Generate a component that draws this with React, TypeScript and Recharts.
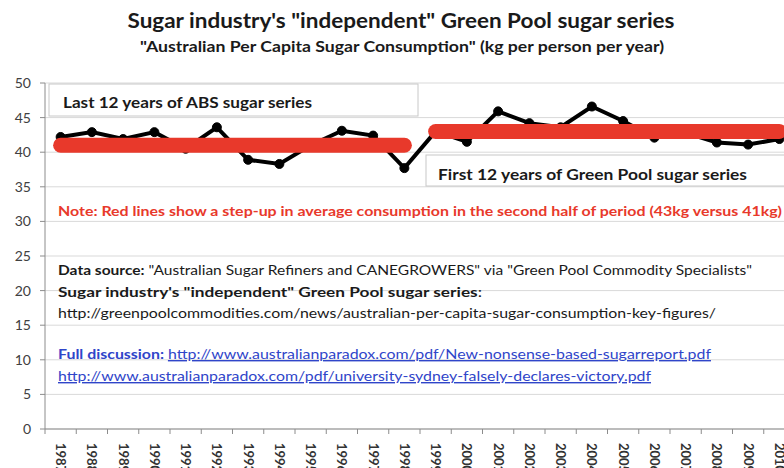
import React from 'react';
import { LineChart, Line, XAxis, YAxis, CartesianGrid, Customized } from 'recharts';

const years = ['1987', '1988', '1989', '1990', '1991', '1992', '1993', '1994', '1995', '1996', '1997', '1998',
  '1999', '2000', '2001', '2002', '2003', '2004', '2005', '2006', '2007', '2008', '2009', '2010'];
const consumption = [42.2, 42.9, 41.9, 42.9, 40.5, 43.6, 38.9, 38.3, 41.0, 43.1, 42.4, 37.7,
  43.0, 41.5, 45.9, 44.2, 43.6, 46.6, 44.5, 42.1, 42.8, 41.4, 41.1, 41.9];
const absAverage = [41, 41, 41, 41, 41, 41, 41, 41, 41, 41, 41, 41,
  null, null, null, null, null, null, null, null, null, null, null, null];
const greenPoolAverage = [null, null, null, null, null, null, null, null, null, null, null, null,
  43, 43, 43, 43, 43, 43, 43, 43, 43, 43, 43, 43];
const yTicks = [0, 5, 10, 15, 20, 25, 30, 35, 40, 45, 50];

const data = years.map((year, i) => ({
  year,
  consumption: consumption[i],
  absAverage: absAverage[i],
  greenPoolAverage: greenPoolAverage[i],
}));

const FONT = 'Lato, "Open Sans", sans-serif';
const BLUE = '#2f45c9';
const RED = '#e8392b';
const BAND = 31.25;

const XTick = (props: any) => {
  const { x, y, payload } = props;
  return (
    <g>
      <line x1={x - BAND / 2} x2={x - BAND / 2} y1={429} y2={434} stroke="#8c8c8c" strokeWidth={1} />
      <text
        transform={`translate(${x - 4.5},${y + 6}) rotate(90)`}
        fontSize={13}
        fontWeight="bold"
        fill="#333"
        fontFamily={FONT}
        textAnchor="start"
      >
        {payload.value}
      </text>
    </g>
  );
};

const Annotations = () => (
  <g fontFamily={FONT}>
    <text x={401} y={28} textAnchor="middle" fontSize={21} fontWeight="bold" fill="#1a1a1a"
      textLength={547} lengthAdjust="spacingAndGlyphs">
      Sugar industry's "independent" Green Pool sugar series
    </text>
    <text x={402} y={52} textAnchor="middle" fontSize={15} fontWeight="bold" fill="#1a1a1a"
      textLength={524} lengthAdjust="spacingAndGlyphs">
      "Australian Per Capita Sugar Consumption" (kg per person per year)
    </text>

    <rect x={49} y={84} width={369} height={32} fill="#fff" stroke="#c8c8c8" strokeWidth={1} />
    <text x={63} y={108} fontSize={15} fontWeight="bold" fill="#1a1a1a"
      textLength={249} lengthAdjust="spacingAndGlyphs">
      Last 12 years of ABS sugar series
    </text>

    <rect x={426} y={155} width={380} height={31} fill="#fff" stroke="#c8c8c8" strokeWidth={1} />
    <text x={438} y={180} fontSize={15} fontWeight="bold" fill="#1a1a1a"
      textLength={309} lengthAdjust="spacingAndGlyphs">
      First 12 years of Green Pool sugar series
    </text>

    <text x={58} y={216} fontSize={14} fontWeight="bold" fill={RED}
      textLength={724} lengthAdjust="spacingAndGlyphs">
      Note: Red lines show a step-up in average consumption in the second half of period (43kg versus 41kg)
    </text>

    <text x={58} y={275} fontSize={14} fill="#1a1a1a" textLength={694} lengthAdjust="spacingAndGlyphs">
      <tspan fontWeight="bold">Data source:</tspan>
      <tspan> "Australian Sugar Refiners and CANEGROWERS" via "Green Pool Commodity Specialists"</tspan>
    </text>
    <text x={58} y={297} fontSize={14} fill="#1a1a1a" textLength={424} lengthAdjust="spacingAndGlyphs">
      <tspan fontWeight="bold">Sugar industry's "independent" Green Pool sugar series</tspan>
      <tspan>:</tspan>
    </text>
    <text x={58} y={318} fontSize={14} fill="#1a1a1a" textLength={658} lengthAdjust="spacingAndGlyphs">
      http://greenpoolcommodities.com/news/australian-per-capita-sugar-consumption-key-figures/
    </text>

    <text x={58} y={359} fontSize={14} fill={BLUE} textLength={653} lengthAdjust="spacingAndGlyphs">
      <tspan fontWeight="bold">Full discussion: </tspan>
      <tspan style={{ textDecoration: 'underline' }}>
        http://www.australianparadox.com/pdf/New-nonsense-based-sugarreport.pdf
      </tspan>
    </text>
    <text x={58} y={381} fontSize={14} fill={BLUE} textLength={593} lengthAdjust="spacingAndGlyphs"
      style={{ textDecoration: 'underline' }}>
      http://www.australianparadox.com/pdf/university-sydney-falsely-declares-victory.pdf
    </text>
  </g>
);

export default function App() {
  return (
    <div style={{ position: 'fixed', left: 0, top: 0, width: 784, height: 468, overflow: 'hidden', background: '#fff' }}>
      <LineChart
        width={820}
        height={480}
        data={data}
        margin={{ top: 83, right: 25, left: 0, bottom: 0 }}
      >
        <CartesianGrid horizontal vertical={false} stroke="#d9d9d9" strokeWidth={1} />
        <XAxis
          dataKey="year"
          height={51}
          interval={0}
          padding={{ left: BAND / 2, right: BAND / 2 }}
          tickLine={false}
          axisLine={{ stroke: '#8c8c8c' }}
          tick={<XTick />}
        />
        <YAxis
          width={45}
          domain={[0, 50]}
          ticks={yTicks}
          interval={0}
          tickSize={5}
          tickMargin={9}
          tickLine={{ stroke: '#8c8c8c' }}
          axisLine={{ stroke: '#8c8c8c' }}
          tick={{ fontSize: 14, fill: '#404040', fontFamily: FONT }}
        />
        <Customized component={Annotations} />
        <Line
          dataKey="consumption"
          stroke="#000"
          strokeWidth={4}
          dot={{ r: 4.5, fill: '#000', stroke: '#000', strokeWidth: 1 }}
          isAnimationActive={false}
        />
        <Line
          dataKey="absAverage"
          stroke={RED}
          strokeWidth={15}
          strokeLinecap="round"
          dot={false}
          connectNulls={false}
          isAnimationActive={false}
          {...({ zIndex: 1500 } as any)}
        />
        <Line
          dataKey="greenPoolAverage"
          stroke={RED}
          strokeWidth={15}
          strokeLinecap="round"
          dot={false}
          connectNulls={false}
          isAnimationActive={false}
          {...({ zIndex: 1500 } as any)}
        />
      </LineChart>
    </div>
  );
}
